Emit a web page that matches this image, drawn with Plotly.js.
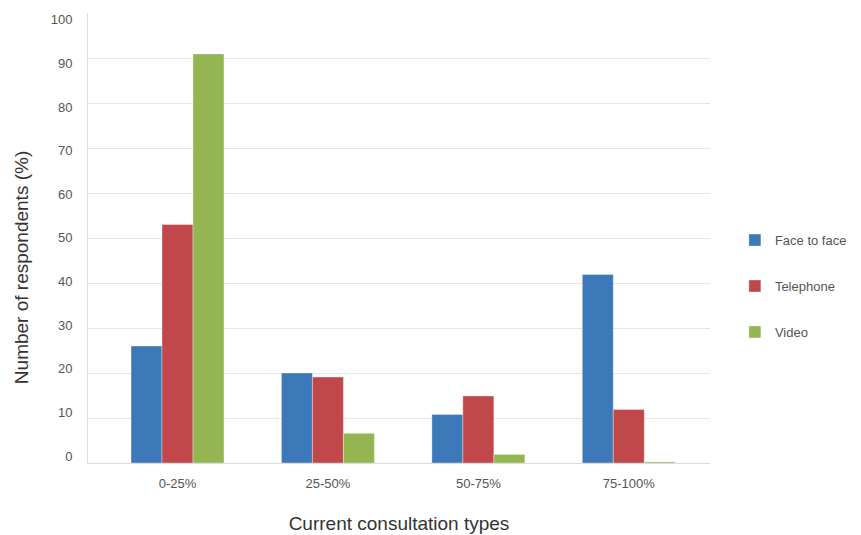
<!DOCTYPE html>
<html>
<head>
<meta charset="utf-8">
<script src="https://cdn.plot.ly/plotly-3.0.1.min.js"></script>
<style>html,body{margin:0;padding:0;background:#fff;}#chart{width:861px;height:535px;}</style>
</head>
<body>
<div id="chart"></div>
<script>
const categories = ['0-25%', '25-50%', '50-75%', '75-100%'];
const faceToFace = [26, 20, 10.8, 41.9];
const telephone = [53, 19.1, 14.9, 11.9];
const video = [90.9, 6.6, 1.9, 0.25];
const yTicks = [0, 10, 20, 30, 40, 50, 60, 70, 80, 90, 100];
const xTitle = 'Current consultation types';
const yTitle = 'Number of respondents (%)';

const font = 'Liberation Sans, Arial, Helvetica, sans-serif';
const traces = [
  {name: 'Face to face', y: faceToFace, color: '#3d78b9', group: 'a'},
  {name: 'Telephone', y: telephone, color: '#c0474a', group: 'b'},
  {name: 'Video', y: video, color: '#93b652', group: 'c'}
].map(s => ({
  type: 'bar', x: categories, y: s.y, name: s.name, legendgroup: s.group,
  marker: {color: s.color, line: {color: 'rgba(255,255,255,0.35)', width: 1}},
  hoverinfo: 'x+y+name'
}));
// invisible helper so the tick-label axis gets drawn
traces.push({type: 'scatter', mode: 'markers', x: categories, y: faceToFace, yaxis: 'y2',
  marker: {opacity: 0}, showlegend: false, hoverinfo: 'skip'});

const layout = {
  width: 861, height: 535,
  margin: {l: 88, r: 151, t: 13, b: 72, autoexpand: false},
  paper_bgcolor: '#fff', plot_bgcolor: '#fff',
  barmode: 'group', bargap: 0.382, bargroupgap: 0,
  font: {family: font, color: '#555', size: 13},
  xaxis: {
    range: [-0.595, 3.54], automargin: false,
    showline: true, linecolor: '#dcdcdc', linewidth: 1,
    ticks: 'outside', ticklen: 8, tickcolor: 'rgba(0,0,0,0)',
    tickfont: {size: 13, color: '#555'},
    title: {text: xTitle, font: {size: 19, color: '#333'}, standoff: 27}
  },
  yaxis: {
    range: [0, 100], tickvals: yTicks, showticklabels: false, automargin: false,
    showgrid: true, gridcolor: '#e6e6e6', gridwidth: 1,
    zeroline: false, showline: true, linecolor: '#dcdcdc', linewidth: 1
  },
  yaxis2: {
    range: [-1.607, 101.538], tickvals: yTicks, overlaying: 'y', side: 'left', automargin: false,
    showgrid: false, zeroline: false, showline: false,
    ticks: 'outside', ticklen: 12, tickcolor: 'rgba(0,0,0,0)',
    tickfont: {size: 13, color: '#555'}
  },
  annotations: [{
    text: yTitle, textangle: -90, showarrow: false,
    xref: 'paper', yref: 'paper', x: -0.1077, y: 0.433,
    xanchor: 'center', yanchor: 'middle',
    font: {size: 19, color: '#333', family: font}
  }],
  legend: {
    x: 1.04, xanchor: 'left', y: 0.393, yanchor: 'middle',
    font: {size: 13, color: '#555'}, tracegroupgap: 26,
    bgcolor: 'rgba(0,0,0,0)'
  },
  showlegend: true
};

Plotly.newPlot('chart', traces, layout, {displayModeBar: false, staticPlot: true});
</script>
</body>
</html>
